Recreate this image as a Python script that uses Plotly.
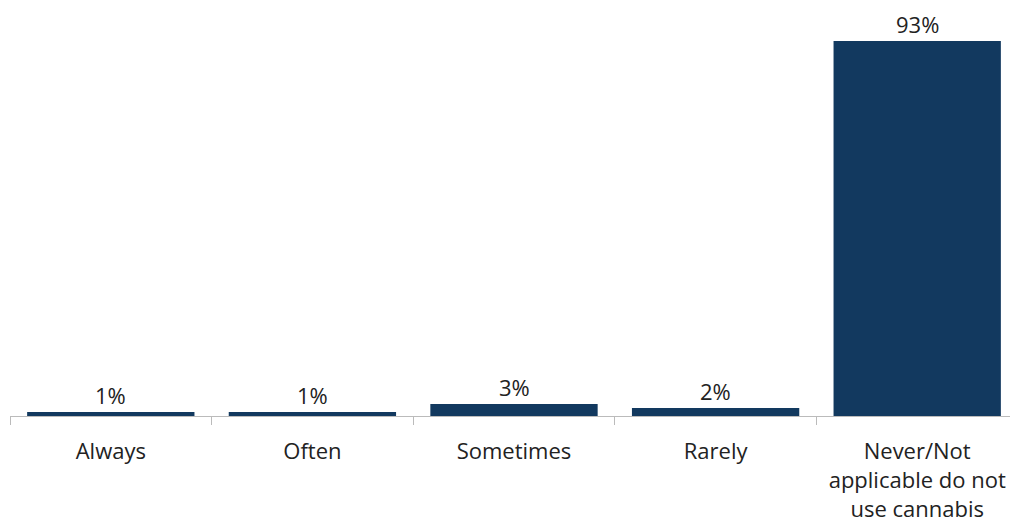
import plotly.graph_objects as go

categories = ["Always", "Often", "Sometimes", "Rarely", "Never/Not<br>applicable do not<br>use cannabis"]
values = [1, 1, 3, 2, 93]
labels = ["1%", "1%", "3%", "2%", "93%"]

fig = go.Figure(go.Bar(
    x=categories, y=values,
    marker=dict(color="#12395F", line=dict(width=0)),
))
for c, v, t in zip(categories, values, labels):
    fig.add_annotation(x=c, y=v, text=t, showarrow=False, yanchor="bottom",
                       yshift=1, borderpad=0,
                       font=dict(size=22, color="#222222", family="Open Sans"))
# page body has an 8px margin: shrink the figure and margins to compensate
fig.update_layout(
    width=1010, height=519,
    margin=dict(l=2, r=0, t=2, b=111),
    plot_bgcolor="white", paper_bgcolor="white",
    bargap=0.17, showlegend=False,
    font=dict(family="Open Sans", size=22, color="#222222"),
)
fig.update_xaxes(
    automargin=False,
    showline=True, linecolor="#BBBBBB", linewidth=1,
    ticks="outside", tickson="boundaries", ticklen=8, tickcolor="#BBBBBB",
    tickfont=dict(size=22, color="#222222"), ticklabelstandoff=16,
)
fig.update_yaxes(visible=False, range=[0, 100.7], showgrid=False, automargin=False)
fig.write_html("out.html")
